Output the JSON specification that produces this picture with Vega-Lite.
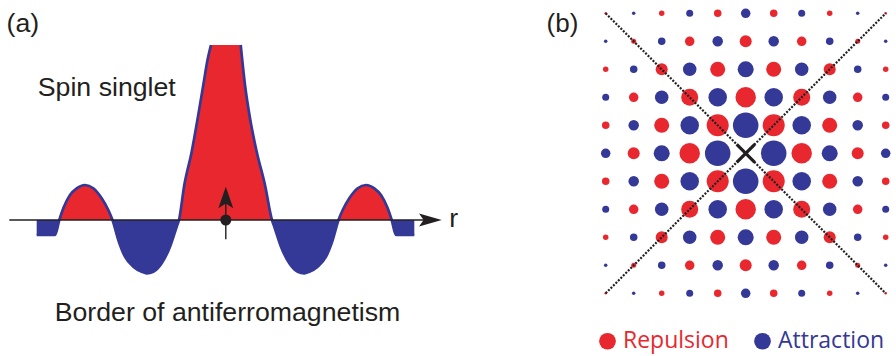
{
  "$schema": "https://vega.github.io/schema/vega-lite/v6.json",
  "padding": 0,
  "background": "white",
  "spacing": 25,
  "config": {"view": {"stroke": null}, "font": "Liberation Sans"},
  "resolve": {"scale": {"x": "independent", "y": "independent", "color": "independent", "size": "independent"}},
  "datasets": {
    "lobes": [
      {"seg": "L3", "k": "Attraction", "o": "L", "r": -18.88, "V": -1.5},
      {"seg": "L3", "k": "Attraction", "o": "L", "r": -17.05, "V": -1.5},
      {"seg": "L3", "k": "Attraction", "o": "L", "r": -16.62, "V": 0},
      {"seg": "L2", "k": "Repulsion", "o": "-", "r": -16.62, "V": 0},
      {"seg": "L2", "k": "Repulsion", "o": "L", "r": -16.22, "V": 1.17},
      {"seg": "L2", "k": "Repulsion", "o": "L", "r": -15.55, "V": 2.5},
      {"seg": "L2", "k": "Repulsion", "o": "L", "r": -14.88, "V": 3.17},
      {"seg": "L2", "k": "Repulsion", "o": "L", "r": -14.05, "V": 3.5},
      {"seg": "L2", "k": "Repulsion", "o": "L", "r": -13.22, "V": 3.17},
      {"seg": "L2", "k": "Repulsion", "o": "L", "r": -12.38, "V": 2.17},
      {"seg": "L2", "k": "Repulsion", "o": "L", "r": -11.72, "V": 1.0},
      {"seg": "L2", "k": "Repulsion", "o": "L", "r": -11.3, "V": 0},
      {"seg": "L1", "k": "Attraction", "o": "-", "r": -11.3, "V": 0},
      {"seg": "L1", "k": "Attraction", "o": "L", "r": -10.72, "V": -2.0},
      {"seg": "L1", "k": "Attraction", "o": "L", "r": -10.05, "V": -3.67},
      {"seg": "L1", "k": "Attraction", "o": "L", "r": -9.22, "V": -4.67},
      {"seg": "L1", "k": "Attraction", "o": "L", "r": -8.38, "V": -5.17},
      {"seg": "L1", "k": "Attraction", "o": "L", "r": -7.88, "V": -5.33},
      {"seg": "L1", "k": "Attraction", "o": "L", "r": -7.22, "V": -5.17},
      {"seg": "L1", "k": "Attraction", "o": "L", "r": -6.38, "V": -4.33},
      {"seg": "L1", "k": "Attraction", "o": "L", "r": -5.55, "V": -2.67},
      {"seg": "L1", "k": "Attraction", "o": "L", "r": -4.88, "V": -0.67},
      {"seg": "L1", "k": "Attraction", "o": "L", "r": -4.65, "V": 0},
      {"seg": "C", "k": "Repulsion", "o": "-", "r": -4.65, "V": 0},
      {"seg": "C", "k": "Repulsion", "o": "L", "r": -4.12, "V": 3.5},
      {"seg": "C", "k": "Repulsion", "o": "L", "r": -3.38, "V": 6.83},
      {"seg": "C", "k": "Repulsion", "o": "L", "r": -2.78, "V": 10.17},
      {"seg": "C", "k": "Repulsion", "o": "L", "r": -2.22, "V": 13.5},
      {"seg": "C", "k": "Repulsion", "o": "L", "r": -1.8, "V": 16.0},
      {"seg": "C", "k": "Repulsion", "o": "L", "r": -1.45, "V": 17.5},
      {"seg": "C", "k": "Repulsion", "o": "R", "r": 1.52, "V": 17.5},
      {"seg": "C", "k": "Repulsion", "o": "R", "r": 1.95, "V": 13.5},
      {"seg": "C", "k": "Repulsion", "o": "R", "r": 2.45, "V": 10.17},
      {"seg": "C", "k": "Repulsion", "o": "R", "r": 3.12, "V": 6.83},
      {"seg": "C", "k": "Repulsion", "o": "R", "r": 3.95, "V": 3.5},
      {"seg": "C", "k": "Repulsion", "o": "R", "r": 4.65, "V": 0},
      {"seg": "R1", "k": "Attraction", "o": "-", "r": 4.65, "V": 0},
      {"seg": "R1", "k": "Attraction", "o": "R", "r": 4.88, "V": -0.67},
      {"seg": "R1", "k": "Attraction", "o": "R", "r": 5.55, "V": -2.67},
      {"seg": "R1", "k": "Attraction", "o": "R", "r": 6.38, "V": -4.33},
      {"seg": "R1", "k": "Attraction", "o": "R", "r": 7.22, "V": -5.17},
      {"seg": "R1", "k": "Attraction", "o": "R", "r": 7.88, "V": -5.33},
      {"seg": "R1", "k": "Attraction", "o": "R", "r": 8.38, "V": -5.17},
      {"seg": "R1", "k": "Attraction", "o": "R", "r": 9.22, "V": -4.67},
      {"seg": "R1", "k": "Attraction", "o": "R", "r": 10.05, "V": -3.67},
      {"seg": "R1", "k": "Attraction", "o": "R", "r": 10.72, "V": -2.0},
      {"seg": "R1", "k": "Attraction", "o": "R", "r": 11.3, "V": 0},
      {"seg": "R2", "k": "Repulsion", "o": "-", "r": 11.3, "V": 0},
      {"seg": "R2", "k": "Repulsion", "o": "R", "r": 11.72, "V": 1.0},
      {"seg": "R2", "k": "Repulsion", "o": "R", "r": 12.38, "V": 2.17},
      {"seg": "R2", "k": "Repulsion", "o": "R", "r": 13.22, "V": 3.17},
      {"seg": "R2", "k": "Repulsion", "o": "R", "r": 14.05, "V": 3.5},
      {"seg": "R2", "k": "Repulsion", "o": "R", "r": 14.88, "V": 3.17},
      {"seg": "R2", "k": "Repulsion", "o": "R", "r": 15.55, "V": 2.5},
      {"seg": "R2", "k": "Repulsion", "o": "R", "r": 16.22, "V": 1.17},
      {"seg": "R2", "k": "Repulsion", "o": "R", "r": 16.62, "V": 0},
      {"seg": "R3", "k": "Attraction", "o": "-", "r": 16.62, "V": 0},
      {"seg": "R3", "k": "Attraction", "o": "R", "r": 17.05, "V": -1.5},
      {"seg": "R3", "k": "Attraction", "o": "R", "r": 18.88, "V": -1.5}
    ],
    "labelsA": [
      {"r": -21.9, "V": 18.8, "t": "(a)"},
      {"r": -18.77, "V": 12.4, "t": "Spin singlet"},
      {"r": -17.08, "V": -10.07, "t": "Border of antiferromagnetism"},
      {"r": 22.38, "V": -0.67, "t": "r"}
    ],
    "labelsB": [
      {"i": -7.114, "j": 4.332, "t": "(b)"}
    ],
    "diag": [
      {"d": "a", "i": -5, "j": 5},
      {"d": "a", "i": 5, "j": -5},
      {"d": "b", "i": -5, "j": -5},
      {"d": "b", "i": 5, "j": 5}
    ],
    "grid": [
      {"i": -5, "j": 5, "k": "Repulsion", "m": 2.5},
      {"i": -4, "j": 5, "k": "Attraction", "m": 3.5},
      {"i": -3, "j": 5, "k": "Repulsion", "m": 5.5},
      {"i": -2, "j": 5, "k": "Attraction", "m": 7},
      {"i": -1, "j": 5, "k": "Repulsion", "m": 7.5},
      {"i": 0, "j": 5, "k": "Attraction", "m": 9.5},
      {"i": 1, "j": 5, "k": "Repulsion", "m": 7.5},
      {"i": 2, "j": 5, "k": "Attraction", "m": 7},
      {"i": 3, "j": 5, "k": "Repulsion", "m": 5.5},
      {"i": 4, "j": 5, "k": "Attraction", "m": 3.5},
      {"i": 5, "j": 5, "k": "Repulsion", "m": 2.5},
      {"i": -5, "j": 4, "k": "Attraction", "m": 3.5},
      {"i": -4, "j": 4, "k": "Repulsion", "m": 5},
      {"i": -3, "j": 4, "k": "Attraction", "m": 7.5},
      {"i": -2, "j": 4, "k": "Repulsion", "m": 9.5},
      {"i": -1, "j": 4, "k": "Attraction", "m": 10.5},
      {"i": 0, "j": 4, "k": "Repulsion", "m": 12},
      {"i": 1, "j": 4, "k": "Attraction", "m": 10.5},
      {"i": 2, "j": 4, "k": "Repulsion", "m": 9.5},
      {"i": 3, "j": 4, "k": "Attraction", "m": 7.5},
      {"i": 4, "j": 4, "k": "Repulsion", "m": 5},
      {"i": 5, "j": 4, "k": "Attraction", "m": 3.5},
      {"i": -5, "j": 3, "k": "Repulsion", "m": 5.5},
      {"i": -4, "j": 3, "k": "Attraction", "m": 7.5},
      {"i": -3, "j": 3, "k": "Repulsion", "m": 12},
      {"i": -2, "j": 3, "k": "Attraction", "m": 13.5},
      {"i": -1, "j": 3, "k": "Repulsion", "m": 15},
      {"i": 0, "j": 3, "k": "Attraction", "m": 16},
      {"i": 1, "j": 3, "k": "Repulsion", "m": 15},
      {"i": 2, "j": 3, "k": "Attraction", "m": 13.5},
      {"i": 3, "j": 3, "k": "Repulsion", "m": 12},
      {"i": 4, "j": 3, "k": "Attraction", "m": 7.5},
      {"i": 5, "j": 3, "k": "Repulsion", "m": 5.5},
      {"i": -5, "j": 2, "k": "Attraction", "m": 7},
      {"i": -4, "j": 2, "k": "Repulsion", "m": 9.5},
      {"i": -3, "j": 2, "k": "Attraction", "m": 13.5},
      {"i": -2, "j": 2, "k": "Repulsion", "m": 17},
      {"i": -1, "j": 2, "k": "Attraction", "m": 18.5},
      {"i": 0, "j": 2, "k": "Repulsion", "m": 20.5},
      {"i": 1, "j": 2, "k": "Attraction", "m": 18.5},
      {"i": 2, "j": 2, "k": "Repulsion", "m": 17},
      {"i": 3, "j": 2, "k": "Attraction", "m": 13.5},
      {"i": 4, "j": 2, "k": "Repulsion", "m": 9.5},
      {"i": 5, "j": 2, "k": "Attraction", "m": 7},
      {"i": -5, "j": 1, "k": "Repulsion", "m": 7.5},
      {"i": -4, "j": 1, "k": "Attraction", "m": 10.5},
      {"i": -3, "j": 1, "k": "Repulsion", "m": 15},
      {"i": -2, "j": 1, "k": "Attraction", "m": 18.5},
      {"i": -1, "j": 1, "k": "Repulsion", "m": 22},
      {"i": 0, "j": 1, "k": "Attraction", "m": 25.5},
      {"i": 1, "j": 1, "k": "Repulsion", "m": 22},
      {"i": 2, "j": 1, "k": "Attraction", "m": 18.5},
      {"i": 3, "j": 1, "k": "Repulsion", "m": 15},
      {"i": 4, "j": 1, "k": "Attraction", "m": 10.5},
      {"i": 5, "j": 1, "k": "Repulsion", "m": 7.5},
      {"i": -5, "j": 0, "k": "Attraction", "m": 9.5},
      {"i": -4, "j": 0, "k": "Repulsion", "m": 12},
      {"i": -3, "j": 0, "k": "Attraction", "m": 16},
      {"i": -2, "j": 0, "k": "Repulsion", "m": 20.5},
      {"i": -1, "j": 0, "k": "Attraction", "m": 25.5},
      {"i": 1, "j": 0, "k": "Attraction", "m": 25.5},
      {"i": 2, "j": 0, "k": "Repulsion", "m": 20.5},
      {"i": 3, "j": 0, "k": "Attraction", "m": 16},
      {"i": 4, "j": 0, "k": "Repulsion", "m": 12},
      {"i": 5, "j": 0, "k": "Attraction", "m": 9.5},
      {"i": -5, "j": -1, "k": "Repulsion", "m": 7.5},
      {"i": -4, "j": -1, "k": "Attraction", "m": 10.5},
      {"i": -3, "j": -1, "k": "Repulsion", "m": 15},
      {"i": -2, "j": -1, "k": "Attraction", "m": 18.5},
      {"i": -1, "j": -1, "k": "Repulsion", "m": 22},
      {"i": 0, "j": -1, "k": "Attraction", "m": 25.5},
      {"i": 1, "j": -1, "k": "Repulsion", "m": 22},
      {"i": 2, "j": -1, "k": "Attraction", "m": 18.5},
      {"i": 3, "j": -1, "k": "Repulsion", "m": 15},
      {"i": 4, "j": -1, "k": "Attraction", "m": 10.5},
      {"i": 5, "j": -1, "k": "Repulsion", "m": 7.5},
      {"i": -5, "j": -2, "k": "Attraction", "m": 7},
      {"i": -4, "j": -2, "k": "Repulsion", "m": 9.5},
      {"i": -3, "j": -2, "k": "Attraction", "m": 13.5},
      {"i": -2, "j": -2, "k": "Repulsion", "m": 17},
      {"i": -1, "j": -2, "k": "Attraction", "m": 18.5},
      {"i": 0, "j": -2, "k": "Repulsion", "m": 20.5},
      {"i": 1, "j": -2, "k": "Attraction", "m": 18.5},
      {"i": 2, "j": -2, "k": "Repulsion", "m": 17},
      {"i": 3, "j": -2, "k": "Attraction", "m": 13.5},
      {"i": 4, "j": -2, "k": "Repulsion", "m": 9.5},
      {"i": 5, "j": -2, "k": "Attraction", "m": 7},
      {"i": -5, "j": -3, "k": "Repulsion", "m": 5.5},
      {"i": -4, "j": -3, "k": "Attraction", "m": 7.5},
      {"i": -3, "j": -3, "k": "Repulsion", "m": 12},
      {"i": -2, "j": -3, "k": "Attraction", "m": 13.5},
      {"i": -1, "j": -3, "k": "Repulsion", "m": 15},
      {"i": 0, "j": -3, "k": "Attraction", "m": 16},
      {"i": 1, "j": -3, "k": "Repulsion", "m": 15},
      {"i": 2, "j": -3, "k": "Attraction", "m": 13.5},
      {"i": 3, "j": -3, "k": "Repulsion", "m": 12},
      {"i": 4, "j": -3, "k": "Attraction", "m": 7.5},
      {"i": 5, "j": -3, "k": "Repulsion", "m": 5.5},
      {"i": -5, "j": -4, "k": "Attraction", "m": 3.5},
      {"i": -4, "j": -4, "k": "Repulsion", "m": 5},
      {"i": -3, "j": -4, "k": "Attraction", "m": 7.5},
      {"i": -2, "j": -4, "k": "Repulsion", "m": 9.5},
      {"i": -1, "j": -4, "k": "Attraction", "m": 10.5},
      {"i": 0, "j": -4, "k": "Repulsion", "m": 12},
      {"i": 1, "j": -4, "k": "Attraction", "m": 10.5},
      {"i": 2, "j": -4, "k": "Repulsion", "m": 9.5},
      {"i": 3, "j": -4, "k": "Attraction", "m": 7.5},
      {"i": 4, "j": -4, "k": "Repulsion", "m": 5},
      {"i": 5, "j": -4, "k": "Attraction", "m": 3.5},
      {"i": -5, "j": -5, "k": "Repulsion", "m": 2.5},
      {"i": -4, "j": -5, "k": "Attraction", "m": 3.5},
      {"i": -3, "j": -5, "k": "Repulsion", "m": 5.5},
      {"i": -2, "j": -5, "k": "Attraction", "m": 7},
      {"i": -1, "j": -5, "k": "Repulsion", "m": 7.5},
      {"i": 0, "j": -5, "k": "Attraction", "m": 9.5},
      {"i": 1, "j": -5, "k": "Repulsion", "m": 7.5},
      {"i": 2, "j": -5, "k": "Attraction", "m": 7},
      {"i": 3, "j": -5, "k": "Repulsion", "m": 5.5},
      {"i": 4, "j": -5, "k": "Attraction", "m": 3.5},
      {"i": 5, "j": -5, "k": "Repulsion", "m": 2.5}
    ]
  },
  "hconcat": [
    {
      "width": 520,
      "height": 356,
      "layer": [
        {
          "data": {"name": "lobes"},
          "mark": {"type": "area", "interpolate": "monotone", "opacity": 1},
          "encoding": {
            "x": {"field": "r", "type": "quantitative", "scale": {"domain": [-22.55, 29.45], "nice": false, "zero": false}, "axis": null},
            "y": {"field": "V", "type": "quantitative", "scale": {"domain": [-13.6, 22.0], "nice": false, "zero": false}, "axis": null, "stack": null},
            "y2": {"datum": 0},
            "color": {"field": "k", "type": "nominal", "scale": {"domain": ["Repulsion", "Attraction"], "range": ["#e8282e", "#343896"]}, "legend": null},
            "detail": {"field": "seg"}
          }
        },
        {
          "data": {"name": "lobes"},
          "transform": [{"filter": "datum.o !== '-'"}],
          "mark": {"type": "line", "interpolate": "monotone", "color": "#343896", "strokeWidth": 2.7},
          "encoding": {
            "x": {"field": "r", "type": "quantitative", "scale": {"domain": [-22.55, 29.45], "nice": false, "zero": false}, "axis": null},
            "y": {"field": "V", "type": "quantitative", "scale": {"domain": [-13.6, 22.0], "nice": false, "zero": false}, "axis": null},
            "detail": {"field": "o"}
          }
        },
        {
          "data": {"values": [{}]},
          "mark": {"type": "rule", "color": "#231f20", "strokeWidth": 1.4},
          "encoding": {
            "x": {"datum": -21.62, "type": "quantitative", "scale": {"domain": [-22.55, 29.45], "nice": false, "zero": false}, "axis": null},
            "x2": {"datum": 20.5},
            "y": {"datum": 0, "type": "quantitative", "scale": {"domain": [-13.6, 22.0], "nice": false, "zero": false}, "axis": null}
          }
        },
        {
          "data": {"values": [{}]},
          "mark": {"type": "point", "shape": "M1,0L-1,-0.58L-0.6,0L-1,0.58Z", "filled": true, "size": 515, "color": "#231f20", "opacity": 1, "strokeWidth": 0},
          "encoding": {
            "x": {"datum": 20.49, "type": "quantitative", "scale": {"domain": [-22.55, 29.45], "nice": false, "zero": false}, "axis": null},
            "y": {"datum": 0, "type": "quantitative", "scale": {"domain": [-13.6, 22.0], "nice": false, "zero": false}, "axis": null}
          }
        },
        {
          "data": {"values": [{}]},
          "mark": {"type": "rule", "color": "#231f20", "strokeWidth": 1.4},
          "encoding": {
            "x": {"datum": 0.03, "type": "quantitative", "scale": {"domain": [-22.55, 29.45], "nice": false, "zero": false}, "axis": null},
            "y": {"datum": -1.93, "type": "quantitative", "scale": {"domain": [-13.6, 22.0], "nice": false, "zero": false}, "axis": null},
            "y2": {"datum": 2.0}
          }
        },
        {
          "data": {"values": [{}]},
          "mark": {"type": "point", "shape": "M0,-1L0.69,1L0,0.55L-0.69,1Z", "filled": true, "size": 466, "color": "#231f20", "opacity": 1, "strokeWidth": 0},
          "encoding": {
            "x": {"datum": 0.03, "type": "quantitative", "scale": {"domain": [-22.55, 29.45], "nice": false, "zero": false}, "axis": null},
            "y": {"datum": 2.25, "type": "quantitative", "scale": {"domain": [-13.6, 22.0], "nice": false, "zero": false}, "axis": null}
          }
        },
        {
          "data": {"values": [{}]},
          "mark": {"type": "point", "shape": "circle", "filled": true, "size": 121, "color": "#231f20", "opacity": 1, "strokeWidth": 0},
          "encoding": {
            "x": {"datum": 0.03, "type": "quantitative", "scale": {"domain": [-22.55, 29.45], "nice": false, "zero": false}, "axis": null},
            "y": {"datum": 0, "type": "quantitative", "scale": {"domain": [-13.6, 22.0], "nice": false, "zero": false}, "axis": null}
          }
        },
        {
          "data": {"name": "labelsA"},
          "mark": {"type": "text", "align": "left", "baseline": "alphabetic", "font": "Liberation Sans", "fontSize": 26.7, "color": "#231f20"},
          "encoding": {
            "x": {"field": "r", "type": "quantitative", "scale": {"domain": [-22.55, 29.45], "nice": false, "zero": false}, "axis": null},
            "y": {"field": "V", "type": "quantitative", "scale": {"domain": [-13.6, 22.0], "nice": false, "zero": false}, "axis": null},
            "text": {"field": "t"}
          }
        }
      ]
    },
    {
      "width": 351,
      "height": 356,
      "layer": [
        {
          "data": {"name": "grid"},
          "mark": {"type": "circle", "opacity": 1},
          "encoding": {
            "x": {"field": "i", "type": "quantitative", "scale": {"domain": [-7.168, 5.368], "nice": false, "zero": false}, "axis": null},
            "y": {"field": "j", "type": "quantitative", "scale": {"domain": [-7.239, 5.475], "nice": false, "zero": false}, "axis": null},
            "color": {
              "field": "k", "type": "nominal",
              "scale": {"domain": ["Repulsion", "Attraction"], "range": ["#e8282e", "#343896"]},
              "legend": {
                "title": null, "orient": "none", "legendX": 51, "legendY": 329.5,
                "direction": "horizontal", "symbolType": "circle", "symbolSize": 279,
                "symbolStrokeWidth": 0, "symbolOpacity": 1, "labelFont": "Open Sans",
                "labelFontSize": 23, "labelOffset": 4, "columnPadding": 22, "padding": 0, "labelLimit": 200,
                "encode": {"labels": {"update": {"fill": {"signal": "datum.value === 'Repulsion' ? '#e8282e' : '#343896'"}}}}
              }
            },
            "size": {"field": "m", "type": "quantitative", "scale": {"type": "pow", "exponent": 2, "domain": [0, 25.5], "range": [0, 650.25]}, "legend": null}
          }
        },
        {
          "data": {"name": "diag"},
          "mark": {"type": "line", "color": "#231f20", "strokeWidth": 2.2, "strokeDash": [2, 1.5]},
          "encoding": {
            "x": {"field": "i", "type": "quantitative", "scale": {"domain": [-7.168, 5.368], "nice": false, "zero": false}, "axis": null},
            "y": {"field": "j", "type": "quantitative", "scale": {"domain": [-7.239, 5.475], "nice": false, "zero": false}, "axis": null},
            "detail": {"field": "d"}
          }
        },
        {
          "data": {"values": [{}]},
          "mark": {"type": "point", "shape": "M-1,-1L1,1M-1,1L1,-1", "filled": false, "color": "#231f20", "strokeWidth": 3.2, "size": 324, "opacity": 1},
          "encoding": {
            "x": {"datum": 0, "type": "quantitative", "scale": {"domain": [-7.168, 5.368], "nice": false, "zero": false}, "axis": null},
            "y": {"datum": 0, "type": "quantitative", "scale": {"domain": [-7.239, 5.475], "nice": false, "zero": false}, "axis": null}
          }
        },
        {
          "data": {"name": "labelsB"},
          "mark": {"type": "text", "align": "left", "baseline": "alphabetic", "font": "Liberation Sans", "fontSize": 26, "color": "#231f20"},
          "encoding": {
            "x": {"field": "i", "type": "quantitative", "scale": {"domain": [-7.168, 5.368], "nice": false, "zero": false}, "axis": null},
            "y": {"field": "j", "type": "quantitative", "scale": {"domain": [-7.239, 5.475], "nice": false, "zero": false}, "axis": null},
            "text": {"field": "t"}
          }
        }
      ]
    }
  ]
}
